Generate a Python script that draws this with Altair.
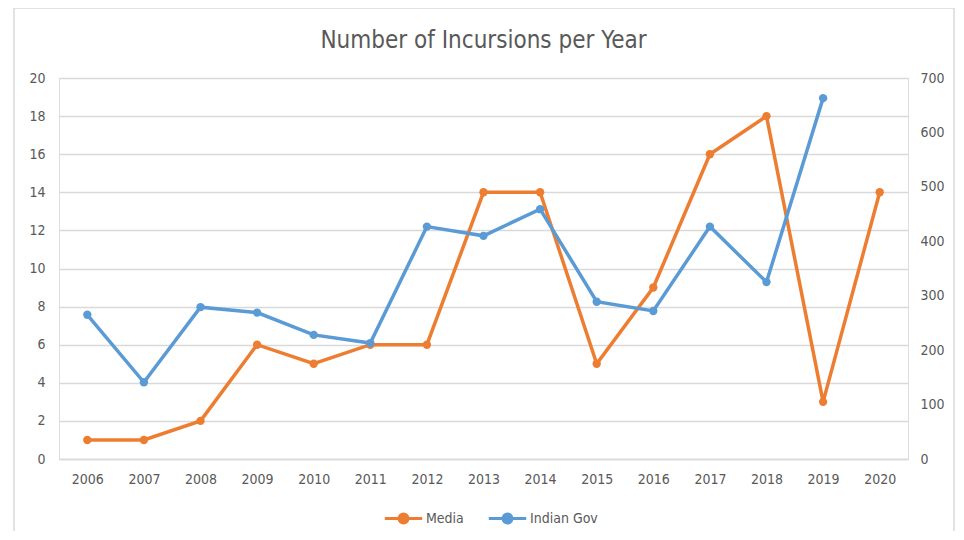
import altair as alt
import pandas as pd

years = [str(y) for y in range(2006, 2021)]
media = [1, 1, 2, 6, 5, 6, 6, 14, 14, 5, 9, 16, 18, 3, 14]
gov_years = [str(y) for y in range(2006, 2020)]
gov = [265, 141, 279, 269, 228, 213, 427, 410, 459, 289, 272, 427, 325, 663]

rows = [{"year": y, "series": "Media", "value": v} for y, v in zip(years, media)]
rows += [{"year": y, "series": "Indian Gov", "value": v} for y, v in zip(gov_years, gov)]
df = pd.DataFrame(rows)

FONT = "Liberation Sans Narrow, DejaVu Sans Condensed, sans-serif"
GREY = "#595959"
ORANGE = "#ED7D31"
BLUE = "#5B9BD5"

color = alt.Color(
    "series:N",
    scale=alt.Scale(domain=["Media", "Indian Gov"], range=[ORANGE, BLUE]),
    legend=alt.Legend(
        title=None, orient="none", direction="horizontal",
        legendX=324, legendY=420,
        symbolType="M-1,0L1,0M-0.24,0A0.24,0.24 0 1,0 0.24,0A0.24,0.24 0 1,0 -0.24,0",
        symbolSize=1400, symbolStrokeWidth=3,
        labelFont=FONT, labelFontSize=14, labelColor=GREY,
        columnPadding=18, labelOffset=2,
    ),
)

xenc = alt.X(
    "year:N", sort=years, title=None,
    scale=alt.Scale(domain=years, paddingInner=0, paddingOuter=0),
    axis=alt.Axis(labelAngle=0, ticks=False, domain=True, domainColor="#D9D9D9",
                  domainWidth=1.5, grid=False, labelPadding=13,
                  labelFont=FONT, labelFontSize=14, labelColor=GREY),
)

base = alt.Chart(df)

media_layer = base.transform_filter(alt.datum.series == "Media").mark_line(
    point=alt.OverlayMarkDef(filled=True, size=70), strokeWidth=3.5
).encode(
    x=xenc,
    y=alt.Y("value:Q", title=None,
            scale=alt.Scale(domain=[0, 20], nice=False),
            axis=alt.Axis(values=list(range(0, 21, 2)), ticks=False, domain=False,
                          grid=True, gridColor="#D9D9D9", gridWidth=1.3,
                          labelPadding=14, labelFont=FONT, labelFontSize=14,
                          labelColor=GREY)),
    color=color,
)

gov_layer = base.transform_filter(alt.datum.series == "Indian Gov").mark_line(
    point=alt.OverlayMarkDef(filled=True, size=70), strokeWidth=3.5
).encode(
    x=xenc,
    y=alt.Y("value:Q", title=None,
            scale=alt.Scale(domain=[0, 700], nice=False),
            axis=alt.Axis(orient="right", values=list(range(0, 701, 100)), ticks=False,
                          domain=False, grid=False, labelPadding=12,
                          labelFont=FONT, labelFontSize=14, labelColor=GREY)),
    color=color,
)

frame = alt.Chart(pd.DataFrame({"k": [0]})).mark_rect(
    fill=None, stroke="#D9D9D9", strokeWidth=1.5
).encode(
    x=alt.value(-45), x2=alt.value(895), y=alt.value(-70), y2=alt.value(480)
)

chart = alt.layer(frame, media_layer, gov_layer).resolve_scale(y="independent").properties(
    width=849, height=381,
    title=alt.TitleParams("Number of Incursions per Year", font=FONT, fontSize=24,
                          fontWeight="normal", color=GREY, offset=-46, anchor="middle"),
    autosize=alt.AutoSizeParams(type="none"),
    padding={"left": 51, "top": 70, "right": 48, "bottom": 72},
).configure_view(stroke=None).configure(background="white")

chart.save("out.html", embed_options={"renderer": "svg", "actions": False})
